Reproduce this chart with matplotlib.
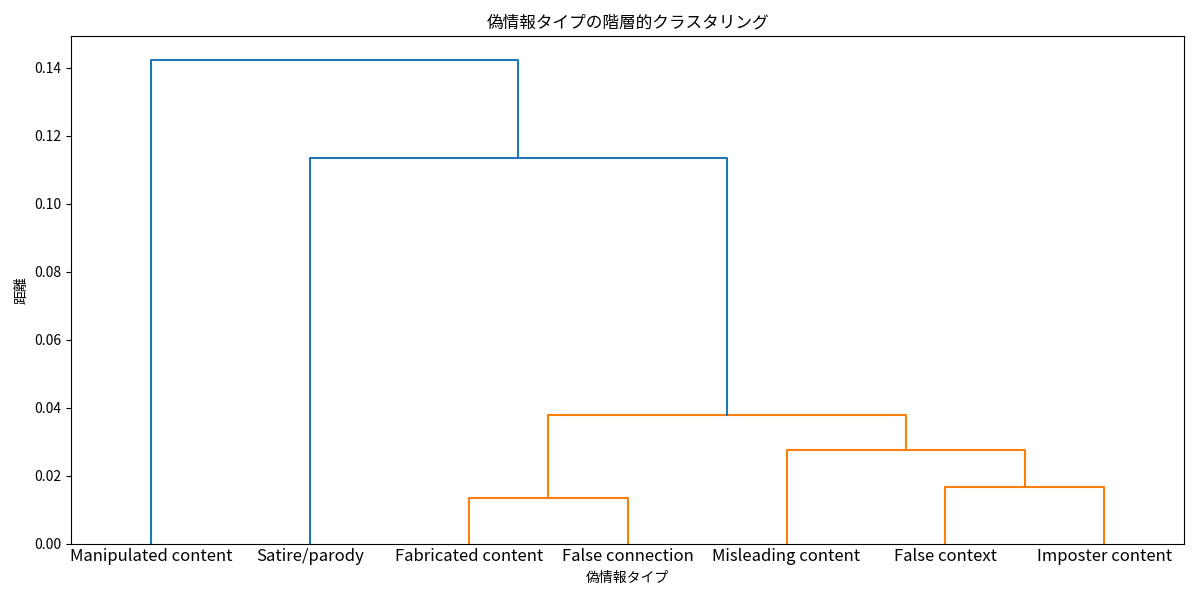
import matplotlib
matplotlib.use("Agg")
import matplotlib.pyplot as plt

plt.rcParams['font.family'] = ['Noto Sans CJK JP', 'DejaVu Sans']

# 葉の並び（デンドログラムの順）
leaf_labels = ["Manipulated content", "Satire/parody", "Fabricated content",
               "False connection", "Misleading content", "False context",
               "Imposter content"]

# 結合: (左ノード, 右ノード, 距離)  0-6 は葉, 7以降は結合で生まれたクラスタ
merge_left = [2, 5, 4, 7, 1, 0]
merge_right = [3, 6, 8, 9, 10, 11]
merge_height = [0.0133, 0.0165, 0.0275, 0.0378, 0.1134, 0.1421]

def rysuj_dendrogram(ax):
    n = len(leaf_labels)
    pos = {i: 5 + 10 * i for i in range(n)}
    wys = {i: 0.0 for i in range(n)}
    prog = 0.7 * max(merge_height)
    for k, (a, b, h) in enumerate(zip(merge_left, merge_right, merge_height)):
        kolor = 'C1' if h < prog else 'C0'
        xs = [pos[a], pos[a], pos[b], pos[b]]
        ys = [wys[a], h, h, wys[b]]
        ax.plot(xs, ys, color=kolor, linewidth=1.5)
        pos[n + k] = (pos[a] + pos[b]) / 2
        wys[n + k] = h
    ax.set_xlim(0, 10 * n)
    ax.set_ylim(0, max(merge_height) * 1.05)
    ax.set_xticks([5 + 10 * i for i in range(n)])
    ax.set_xticklabels(leaf_labels, fontsize=12)
    ax.tick_params(axis='x', length=0)

fig, ax = plt.subplots(figsize=(12, 6), dpi=100)
rysuj_dendrogram(ax)
ax.set_title("偽情報タイプの階層的クラスタリング", fontsize=12)
ax.set_xlabel("偽情報タイプ", fontsize=10)
ax.set_ylabel("距離", fontsize=10)
ax.set_yticks([0.0, 0.02, 0.04, 0.06, 0.08, 0.10, 0.12, 0.14])
ax.set_yticklabels([f"{v:.2f}" for v in ax.get_yticks()], fontsize=10)
fig.tight_layout()
fig.savefig("out.png")
